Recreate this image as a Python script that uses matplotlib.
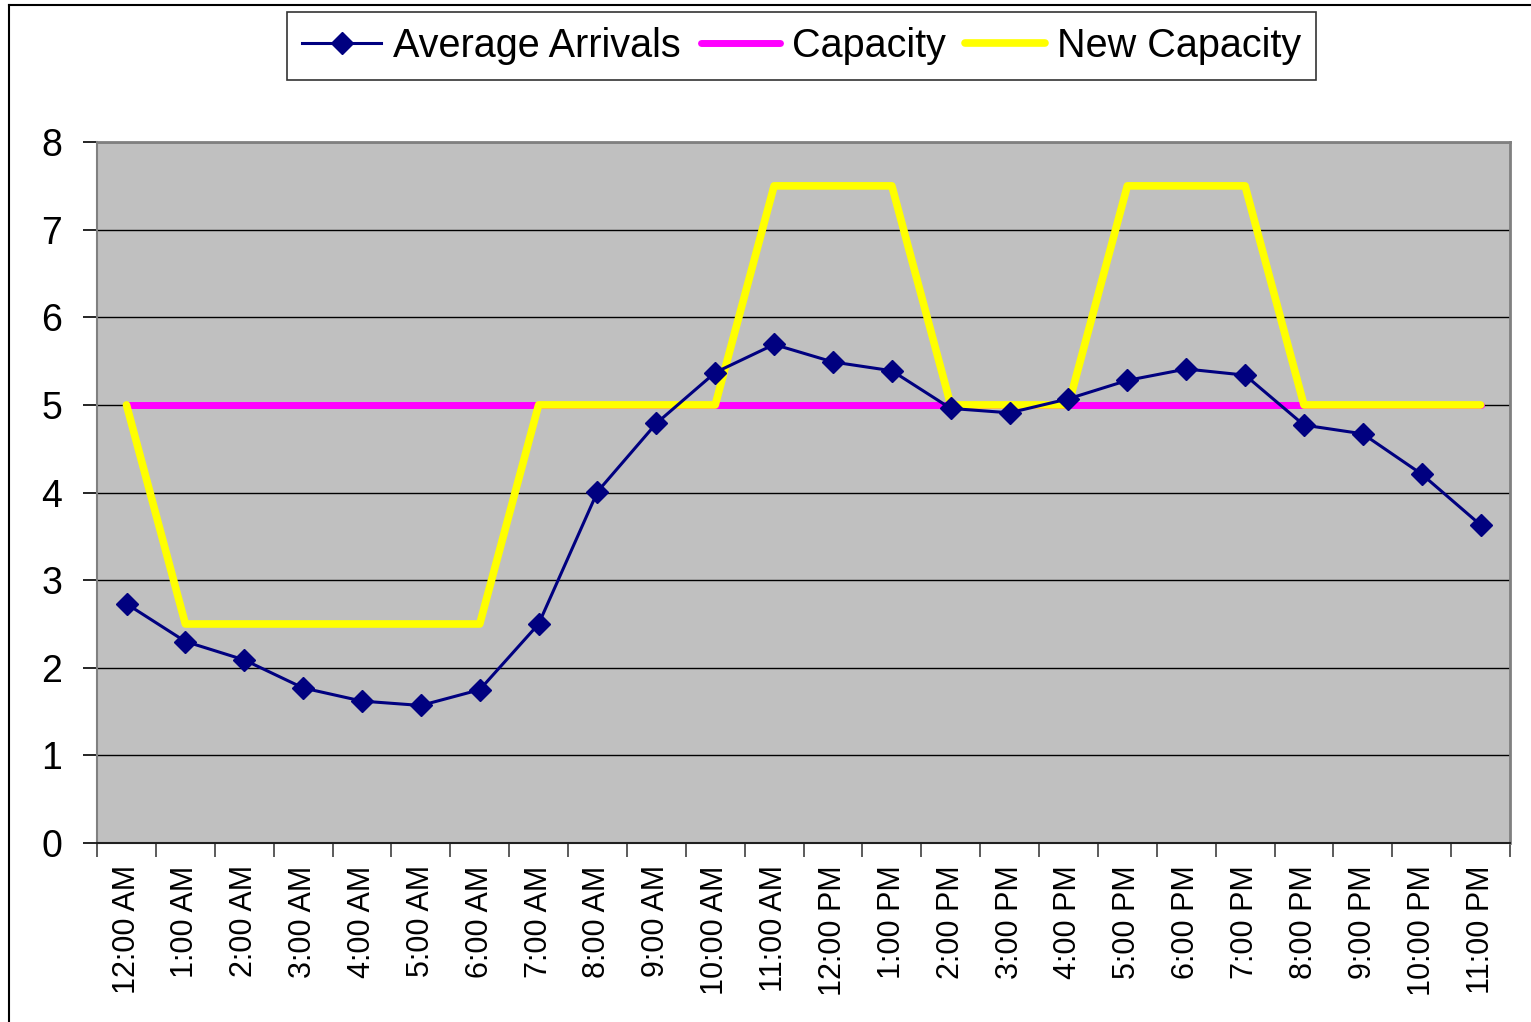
import matplotlib.pyplot as plt
from matplotlib.lines import Line2D
import numpy as np

plt.rcParams['font.family'] = ['Liberation Sans', 'DejaVu Sans']

hours = ["12:00 AM", "1:00 AM", "2:00 AM", "3:00 AM", "4:00 AM", "5:00 AM",
         "6:00 AM", "7:00 AM", "8:00 AM", "9:00 AM", "10:00 AM", "11:00 AM",
         "12:00 PM", "1:00 PM", "2:00 PM", "3:00 PM", "4:00 PM", "5:00 PM",
         "6:00 PM", "7:00 PM", "8:00 PM", "9:00 PM", "10:00 PM", "11:00 PM"]

avg_arrivals = [2.73, 2.30, 2.09, 1.77, 1.62, 1.57, 1.75, 2.50, 4.01, 4.79,
                5.37, 5.69, 5.49, 5.39, 4.96, 4.91, 5.07, 5.28, 5.41, 5.34,
                4.77, 4.67, 4.21, 3.63]
capacity = [5] * 24
new_capacity = [5, 2.5, 2.5, 2.5, 2.5, 2.5, 2.5, 5, 5, 5, 5, 7.5,
                7.5, 7.5, 5, 5, 5, 7.5, 7.5, 7.5, 5, 5, 5, 5]

fig = plt.figure(figsize=(15.31, 10.22), dpi=100)
ax = fig.add_axes([0.0634, 0.1751, 0.9229, 0.6859])
ax.set_facecolor('#C0C0C0')

x = np.arange(len(hours))
ax.plot(x, capacity, color='#FF00FF', lw=5, solid_capstyle='round', zorder=3,
        label='Capacity')
ax.plot(x, new_capacity, color='#FFFF00', lw=5.5, solid_capstyle='round',
        solid_joinstyle='round', zorder=4, label='New Capacity')
ax.plot(x, avg_arrivals, color='#000080', lw=2.2, marker='D', markersize=11,
        zorder=5, label='Average Arrivals')

ax.set_xlim(-0.5, 23.5)
ax.set_ylim(0, 8)
ax.set_yticks(range(0, 9))
ax.yaxis.grid(True, color='black', lw=1)
ax.set_axisbelow(True)

# category ticks sit on the boundaries, labels at the centres
ax.set_xticks(np.arange(-0.5, 24, 1))
ax.set_xticklabels([])
ax.set_xticks(x, minor=True)
ax.set_xticklabels(hours, minor=True, rotation=90, fontsize=22, va='top')
ax.tick_params(axis='x', which='major', length=10, width=1.2, color='#404040')
ax.tick_params(axis='x', which='minor', length=0, pad=16)
ax.tick_params(axis='y', length=10, width=1.2, color='black', pad=15, labelsize=27)

for side in ['top', 'right']:
    ax.spines[side].set_color('#808080')
    ax.spines[side].set_linewidth(2)
ax.spines['left'].set_color('#808080')
ax.spines['left'].set_linewidth(1.5)
ax.spines['bottom'].set_color('#202020')
ax.spines['bottom'].set_linewidth(1.5)

handles, labels = ax.get_legend_handles_labels()
order = [2, 0, 1]
leg = fig.legend([handles[i] for i in order], [labels[i] for i in order],
                 loc='center', bbox_to_anchor=(0.5235, 0.955), ncol=3,
                 fontsize=28.5, frameon=True, fancybox=False, handlelength=2.0,
                 handletextpad=0.3, columnspacing=0.5, borderpad=0.38)
leg.get_frame().set_edgecolor('black')
leg.get_frame().set_linewidth(1.2)

# chart area border, cut off at the right and bottom
fig.add_artist(Line2D([9 / 1531, 9 / 1531], [0, 1 - 5 / 1022],
                      transform=fig.transFigure, color='black', lw=1.5))
fig.add_artist(Line2D([9 / 1531, 1], [1 - 5 / 1022, 1 - 5 / 1022],
                      transform=fig.transFigure, color='black', lw=1.5))

fig.savefig('out.png', dpi=100)
plt.close(fig)
